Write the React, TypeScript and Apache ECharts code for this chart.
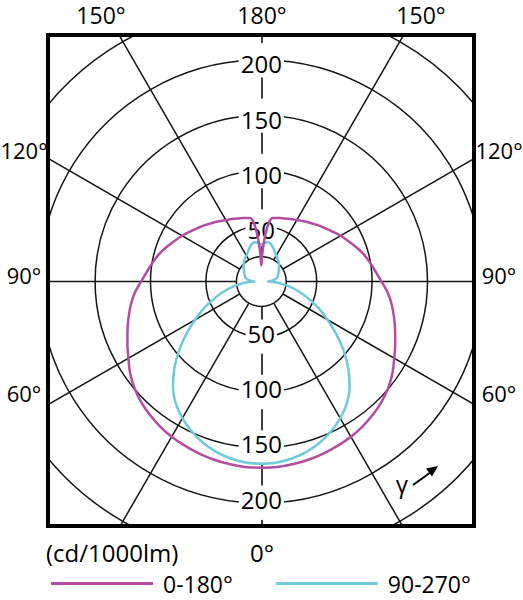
import React, { useEffect, useRef } from 'react';
import * as echarts from 'echarts';

// gamma angles (deg from nadir) and luminous intensity (cd/1000lm)
const C0_180_ANGLES = [
  0, 5, 10, 15, 20, 25, 30, 35, 40, 45, 50, 55, 60, 65, 70, 75, 80, 85, 90,
  95, 100, 105, 110, 115, 120, 125, 130, 135, 140, 145, 150, 155, 160, 165,
  168, 170, 172, 174, 176, 178, 180,
];
const C0_180_VALUES = [
  168, 168, 167.3, 166.3, 165, 163.5, 161.7, 159.5, 156.8, 153.5, 149.5, 144.5,
  138.5, 133.3, 128.5, 124, 119.5, 114.5, 108.5, 103.5, 99.5, 95.5, 91, 86.5,
  82.5, 78.5, 75, 72, 69, 66.3, 64, 62.2, 60.6, 59.3, 58.7, 58.2, 55.5, 48, 37,
  25, 14.5,
];
const C90_270_ANGLES = [
  0, 5, 10, 15, 20, 25, 30, 35, 40, 45, 50, 55, 60, 65, 70, 75, 80, 85, 88,
  90, 92, 95, 100, 105, 110, 115, 120, 125, 130, 135, 140, 145, 150, 155, 160,
  165, 170, 175, 180,
];
const C90_270_VALUES = [
  164.5, 163.9, 162, 158.9, 154.6, 149.1, 142.5, 134.5, 124, 111, 97, 82.5, 69,
  57, 45.5, 35, 25.5, 16, 10, 6, 8, 10.5, 13, 15, 16, 17, 18, 19.5, 21, 22.5,
  24, 25.5, 27, 29, 32, 34.5, 36, 35, 33,
];

const SERIES_NAMES = ['0-180°', '90-270°'];
const RADIUS_LABELS = [50, 100, 150, 200];
const TOP_LABELS = ['150°', '180°', '150°'];
const SIDE_LABELS = ['120°', '90°', '60°'];
const BOTTOM_LABEL = '0°';
const UNIT_LABEL = '(cd/1000lm)';
const INNER_RING = 22.5;

const FONT = '"Open Sans", "Noto Sans", sans-serif';
const CENTER = [261.3, 281.5];
const RADIUS = 332.4;

// left half uses gamma, right half uses 360 - gamma so the curve closes
const toPolar = (angles: number[], values: number[]) => {
  const left = angles.map((a, i) => [values[i], a]);
  const right = angles
    .map((a, i) => [values[i], 360 - a])
    .reverse()
    .slice(1);
  return left.concat(right);
};

const App: React.FC = () => {
  const chartRef = useRef<HTMLDivElement>(null);

  useEffect(() => {
    if (!chartRef.current) return;
    const chart = echarts.init(chartRef.current, undefined, { renderer: 'svg' });

    const ring: number[][] = [];
    for (let a = 0; a <= 360; a += 10) ring.push([INNER_RING, a]);

    const spokeColors = Array.from({ length: 12 }, (_, i) =>
      i % 6 === 0 ? 'rgba(0,0,0,0)' : '#151515'
    );

    const hiddenAngle = (polarIndex: number, startAngle: number) => ({
      polarIndex,
      type: 'value',
      min: 0,
      max: 360,
      startAngle,
      axisLine: { show: false },
      axisTick: { show: false },
      axisLabel: { show: false },
      splitLine: { show: false },
    });

    // label axes: the printed numbers sit a little toward the centre of their rings
    const labelRadius = (polarIndex: number) => ({
      polarIndex,
      type: 'value',
      min: 3.5,
      max: 303.5,
      axisLine: {
        show: true,
        lineStyle: { color: '#000', width: 1.5, type: [20, 35.4], dashOffset: 37.7 },
      },
      axisTick: { show: false },
      splitLine: { show: false },
      axisLabel: {
        show: true,
        margin: 0,
        align: 'center',
        verticalAlign: 'middle',
        color: '#000',
        fontFamily: FONT,
        fontSize: 24,
        backgroundColor: '#fff',
        padding: [0, 2],
        formatter: (v: number) => (RADIUS_LABELS.includes(v) ? String(v) : ''),
      },
    });

    const txt = (text: string, x: number, y: number, align = 'center', size = 24) => ({
      type: 'text',
      z: 11,
      style: {
        text,
        x,
        y,
        font: `${size}px ${FONT}`,
        fill: '#000',
        textAlign: align,
        textVerticalAlign: 'middle',
      },
    });

    const curve = (name: string, data: number[][], color: string, z: number) => ({
      name,
      type: 'line',
      coordinateSystem: 'polar',
      polarIndex: 0,
      data,
      symbol: 'none',
      smooth: 0.35,
      color,
      z,
      lineStyle: { color, width: 2.5 },
    });

    const option: any = {
      animation: false,
      polar: [
        { center: CENTER, radius: RADIUS },
        { center: CENTER, radius: RADIUS },
        { center: CENTER, radius: RADIUS },
      ],
      angleAxis: [
        {
          polarIndex: 0,
          type: 'value',
          min: 0,
          max: 360,
          interval: 30,
          startAngle: 270,
          clockwise: true,
          axisLine: { show: false },
          axisTick: { show: false },
          axisLabel: { show: false },
          splitLine: { show: true, lineStyle: { color: spokeColors, width: 1.5 } },
        },
        hiddenAngle(1, 90),
        hiddenAngle(2, 270),
      ],
      radiusAxis: [
        {
          polarIndex: 0,
          type: 'value',
          min: 0,
          max: 300,
          interval: 50,
          axisLine: { show: false },
          axisTick: { show: false },
          axisLabel: { show: false },
          splitLine: { show: true, lineStyle: { color: '#151515', width: 1.5 } },
        },
        labelRadius(1),
        labelRadius(2),
      ],
      legend: {
        data: SERIES_NAMES,
        selectedMode: false,
        z: 12,
        left: 46,
        top: 567,
        icon: 'rect',
        itemWidth: 102,
        itemHeight: 3,
        itemGap: 43,
        textStyle: {
          fontFamily: FONT,
          fontSize: 23,
          lineHeight: 20,
          color: '#000',
          padding: [0, 0, 0, 5],
        },
      },
      series: [
        {
          type: 'line',
          coordinateSystem: 'polar',
          polarIndex: 0,
          data: ring,
          symbol: 'none',
          silent: true,
          z: 2,
          lineStyle: { color: '#151515', width: 1.5 },
          areaStyle: { color: '#fff', opacity: 1 },
        },
        curve(SERIES_NAMES[1], toPolar(C90_270_ANGLES, C90_270_VALUES), '#72c9d8', 3),
        curve(SERIES_NAMES[0], toPolar(C0_180_ANGLES, C0_180_VALUES), '#b24d9f', 4),
      ],
      graphic: [
        { type: 'rect', z: 10, shape: { x: 0, y: 0, width: 523, height: 33 }, style: { fill: '#fff' } },
        { type: 'rect', z: 10, shape: { x: 0, y: 528, width: 523, height: 72 }, style: { fill: '#fff' } },
        { type: 'rect', z: 10, shape: { x: 0, y: 0, width: 46, height: 600 }, style: { fill: '#fff' } },
        { type: 'rect', z: 10, shape: { x: 476, y: 0, width: 47, height: 600 }, style: { fill: '#fff' } },
        {
          type: 'rect',
          z: 11,
          shape: { x: 48, y: 35, width: 426, height: 491 },
          style: { fill: 'none', stroke: '#000', lineWidth: 4 },
        },
        txt(TOP_LABELS[0], 101, 15, 'center', 23),
        txt(TOP_LABELS[1], 262, 15, 'center', 23),
        txt(TOP_LABELS[2], 421, 15, 'center', 23),
        txt(SIDE_LABELS[0], 24, 150, 'center', 22),
        txt(SIDE_LABELS[1], 24, 275, 'center', 22),
        txt(SIDE_LABELS[2], 24, 393, 'center', 22),
        txt(SIDE_LABELS[0], 499, 150, 'center', 22),
        txt(SIDE_LABELS[1], 499, 275, 'center', 22),
        txt(SIDE_LABELS[2], 499, 393, 'center', 22),
        txt(BOTTOM_LABEL, 262, 552),
        txt(UNIT_LABEL, 46, 552, 'left'),
        txt('γ', 402, 483),
        {
          type: 'line',
          z: 11,
          shape: { x1: 413, y1: 485, x2: 431, y2: 472 },
          style: { stroke: '#000', lineWidth: 2 },
        },
        {
          type: 'polygon',
          z: 11,
          shape: { points: [[438, 466], [432, 476.5], [426, 468.5]] },
          style: { fill: '#000' },
        },
      ],
    };

    chart.setOption(option);
    return () => chart.dispose();
  }, []);

  return (
    <div
      ref={chartRef}
      style={{ position: 'fixed', left: 0, top: 0, width: 523, height: 600, background: '#fff' }}
    />
  );
};

export default App;
